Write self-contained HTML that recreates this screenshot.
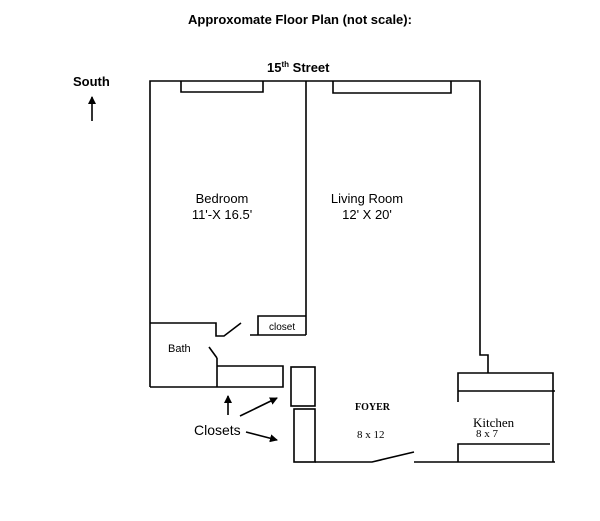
<!DOCTYPE html>
<html><head><style>
body{margin:0;background:#fff;width:600px;height:521px;overflow:hidden}
svg{display:block}
.s{font-family:"Liberation Sans",sans-serif;fill:#000}
.r{font-family:"Liberation Serif",serif;fill:#000}
</style></head><body>
<svg width="600" height="521" viewBox="0 0 600 521" stroke="#000" stroke-width="1.6" fill="none">
<defs><marker id="a" markerWidth="8" markerHeight="8" refX="7" refY="4" orient="auto" markerUnits="userSpaceOnUse"><path d="M0,0 L8,4 L0,8 z" fill="#000" stroke="none"/></marker></defs>
<g stroke="none">
<text class="s" x="300" y="24" font-size="13" font-weight="bold" text-anchor="middle">Approxomate Floor Plan (not scale):</text>
<text class="s" x="267" y="72" font-size="13" font-weight="bold">15<tspan font-size="8" dy="-5">th</tspan><tspan dy="5"> Street</tspan></text>
<text class="s" x="73" y="86" font-size="13" font-weight="bold">South</text>
<text class="s" x="222" y="203" font-size="13" text-anchor="middle">Bedroom</text>
<text class="s" x="222" y="219" font-size="13" text-anchor="middle">11'-X 16.5'</text>
<text class="s" x="367" y="203" font-size="13" text-anchor="middle">Living Room</text>
<text class="s" x="367" y="219" font-size="13" text-anchor="middle">12' X 20'</text>
<text class="s" x="269" y="330" font-size="10">closet</text>
<text class="s" x="168" y="352" font-size="11">Bath</text>
<text class="s" x="194" y="435" font-size="14">Closets</text>
<text class="r" x="355" y="410" font-size="10" font-weight="bold">FOYER</text>
<text class="r" x="357" y="438" font-size="11">8 x 12</text>
<text class="r" x="473" y="427" font-size="13">Kitchen</text>
<text class="r" x="476" y="437" font-size="11">8 x 7</text>
</g>
<line x1="92" y1="121" x2="92" y2="97" marker-end="url(#a)"/>
<polyline points="150,387 150,81 480,81 480,355 488,355 488,373"/>
<polyline points="181,81 181,92 263,92 263,81"/>
<polyline points="333,81 333,93 451,93 451,81"/>
<line x1="306" y1="81" x2="306" y2="335"/>
<polyline points="250,335 306,335"/>
<polyline points="258,335 258,316 306,316"/>
<polyline points="150,323 216,323 216,336 224,336 241,323"/>
<line x1="209" y1="347" x2="217" y2="358"/>
<polyline points="217,358 217,387"/>
<polyline points="150,387 283,387 283,366 217,366"/>
<rect x="291" y="367" width="24" height="39"/>
<rect x="294" y="409" width="21" height="53"/>
<polyline points="315,462 372,462 414,452"/>
<line x1="414" y1="462" x2="555" y2="462"/>
<polyline points="458,402 458,373 553,373 553,462"/>
<line x1="458" y1="391" x2="555" y2="391"/>
<polyline points="458,462 458,444 550,444"/>
<line x1="228" y1="415" x2="228" y2="396" marker-end="url(#a)"/>
<line x1="240" y1="416" x2="277" y2="398" marker-end="url(#a)"/>
<line x1="246" y1="432" x2="277" y2="440" marker-end="url(#a)"/>
</svg>
</body></html>
